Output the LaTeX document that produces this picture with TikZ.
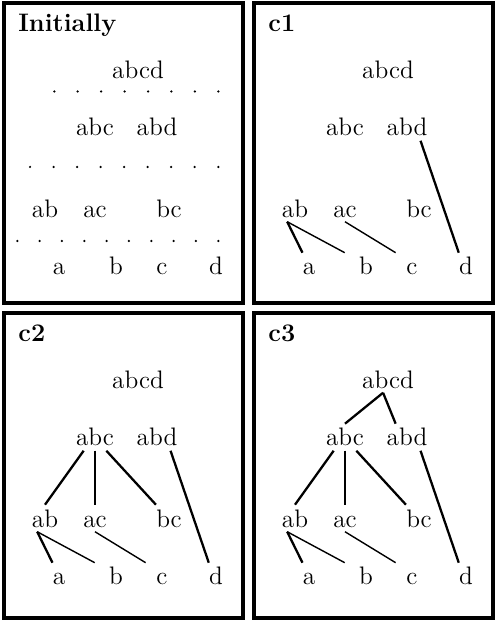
\documentclass[tikz,border=0pt]{standalone}
\usepackage{tikz}

\begin{document}
\begin{tikzpicture}[every node/.style={font=\Large,anchor=base,
  inner xsep=0pt,inner ysep=2.5pt,text height=10pt,text depth=0pt},
  title/.style={font=\Large\bfseries,anchor=base west,inner sep=0pt},
  panel/.style={line width=1.8pt},
  link/.style={line width=1.3pt},
  thin link/.style={line width=0.8pt}]

  \useasboundingbox (0,0) rectangle (10,12.4);

  % frames
  \draw[panel] (0.08,6.34) rectangle (4.86,12.34);
  \draw[panel] (5.08,6.34) rectangle (9.86,12.34);
  \draw[panel] (0.08,0.04) rectangle (4.86,6.14);
  \draw[panel] (5.08,0.04) rectangle (9.86,6.14);

  % the same lattice in every frame
  \foreach \p/\x/\y/\ttl in {p1/0.08/12.34/Initially, p2/5.08/12.34/c1,
      p3/0.08/6.14/c2, p4/5.08/6.14/c3} {
    \begin{scope}[shift={(\x,\y)}]
      \node[title] (\p-title) at (0.28,-0.57) {\ttl};
      \node (\p-abcd) at (2.68,-1.50) {abcd};
      \node (\p-abc) at (1.82,-2.66) {abc};
      \node (\p-abd) at (3.06,-2.66) {abd};
      \node (\p-ab) at (0.82,-4.28) {ab};
      \node (\p-ac) at (1.82,-4.28) {ac};
      \node (\p-bc) at (3.30,-4.28) {bc};
      \node (\p-a) at (1.10,-5.44) {a};
      \node (\p-b) at (2.24,-5.44) {b};
      \node (\p-c) at (3.16,-5.44) {c};
      \node (\p-d) at (4.24,-5.44) {d};
    \end{scope}
  }

  % dotted separators (Initially)
  \foreach \i in {0,...,7} \fill (1.086+0.4686*\i,10.57) circle (0.025);
  \foreach \i in {0,...,8} \fill (0.60+0.4707*\i,9.06) circle (0.025);
  \foreach \i in {0,...,9} \fill (0.346+0.4467*\i,7.58) circle (0.025);

  % c1, c2, c3
  \foreach \p in {p2,p3,p4} {
    \draw[link] (\p-ab.240) -- (\p-a.north west);
    \draw[thin link] (\p-ab.240) -- ([xshift=-8pt]\p-b.north west);
    \draw[thin link] (\p-ac.south) -- ([xshift=-6pt]\p-c.north west);
    \draw[link] (\p-abd.315) -- (\p-d.north west);
  }

  % c2, c3
  \foreach \p in {p3,p4} {
    \draw[link] (\p-abc.230) -- (\p-ab.north);
    \draw[thin link] (\p-abc.south) -- (\p-ac.north);
    \draw[link] (\p-abc.310) -- (\p-bc.north west);
  }

  % c3
  \draw[link] (p4-abcd.250) -- (p4-abc.north);
  \draw[link] (p4-abcd.250) -- (p4-abd.130);

\end{tikzpicture}
\end{document}
